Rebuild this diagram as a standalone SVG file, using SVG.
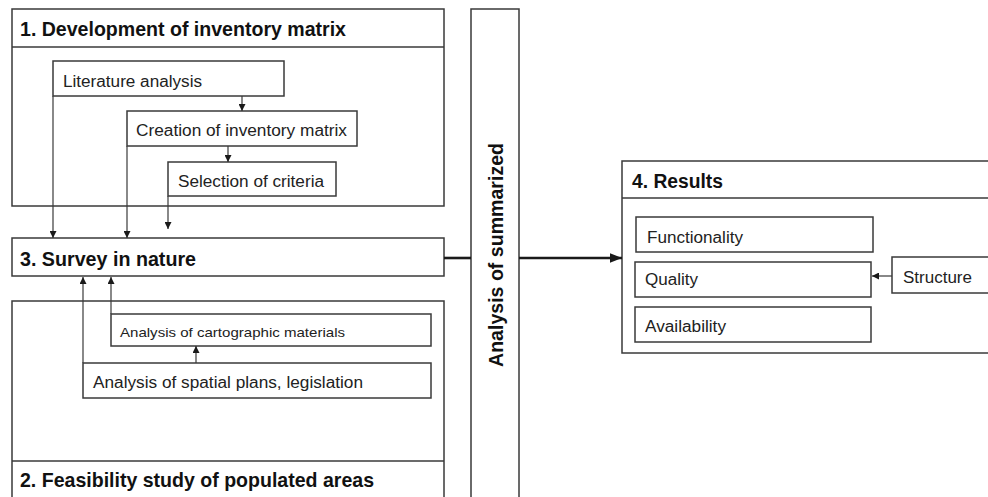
<svg xmlns="http://www.w3.org/2000/svg" width="988" height="497" viewBox="0 0 988 497">
<style>
.box{fill:#fff;stroke:#3a3a3a;stroke-width:1.5}
.ln{fill:none;stroke:#3a3a3a;stroke-width:1.2}
.thick{fill:none;stroke:#1a1a1a;stroke-width:2.6}
.t{font-family:"Liberation Sans",Arial,sans-serif;fill:#222}
.h{font-family:"Liberation Sans",Arial,sans-serif;fill:#111;font-weight:bold;font-size:21px}
</style>
<defs>
<marker id="a" viewBox="0 0 10 10" refX="10" refY="5" markerWidth="7" markerHeight="7" markerUnits="userSpaceOnUse" orient="auto"><path d="M0,0 L10,5 L0,10 z" fill="#1a1a1a"/></marker>
<marker id="ab" viewBox="0 0 10 10" refX="10" refY="5" markerWidth="12" markerHeight="12" markerUnits="userSpaceOnUse" orient="auto"><path d="M0,1 L10,5 L0,9 z" fill="#1a1a1a"/></marker>
</defs>
<rect width="988" height="497" fill="#fff"/>

<g id="group1">
<rect class="box" x="12" y="9" width="432" height="197"/>
<line class="ln" x1="12" y1="47" x2="444" y2="47" style="stroke-width:1.5"/>
<text class="h" x="20" y="36" textLength="326" lengthAdjust="spacingAndGlyphs">1. Development of inventory matrix</text>
</g>
<g id="literature">
<rect class="box" x="53" y="61" width="231" height="35"/>
<text class="t" x="63" y="87" font-size="16" textLength="139" lengthAdjust="spacingAndGlyphs">Literature analysis</text>
</g>
<g id="creation">
<rect class="box" x="127" y="111" width="230" height="35"/>
<text class="t" x="136" y="136" font-size="16" textLength="211" lengthAdjust="spacingAndGlyphs">Creation of inventory matrix</text>
</g>
<g id="selection">
<rect class="box" x="168" y="162" width="168" height="34"/>
<text class="t" x="178" y="187" font-size="16" textLength="146" lengthAdjust="spacingAndGlyphs">Selection of criteria</text>
</g>

<g id="survey">
<rect class="box" x="12" y="238" width="432" height="38"/>
<text class="h" x="20" y="266" font-size="20" style="font-size:20px" textLength="176" lengthAdjust="spacingAndGlyphs">3. Survey in nature</text>
</g>

<g id="group2">
<rect class="box" x="12" y="301" width="432" height="210"/>
<line class="ln" x1="12" y1="461" x2="444" y2="461" style="stroke-width:1.5"/>
<text class="h" x="20" y="487" textLength="354" lengthAdjust="spacingAndGlyphs">2. Feasibility study of populated areas</text>
</g>
<g id="cartographic">
<rect class="box" x="111" y="314" width="320" height="32"/>
<text class="t" x="120" y="337" font-size="13" textLength="225" lengthAdjust="spacingAndGlyphs">Analysis  of cartographic materials</text>
</g>
<g id="spatial">
<rect class="box" x="83" y="363" width="348" height="35"/>
<text class="t" x="93" y="388" font-size="16" textLength="270" lengthAdjust="spacingAndGlyphs">Analysis of spatial plans, legislation</text>
</g>

<g id="analysis">
<rect class="box" x="471" y="9" width="48" height="500"/>
<text class="h" transform="translate(503,367) rotate(-90)" x="0" y="0" style="font-size:20px" textLength="224" lengthAdjust="spacingAndGlyphs">Analysis of summarized</text>
</g>

<g id="results">
<rect class="box" x="622" y="161" width="380" height="192"/>
<line class="ln" x1="622" y1="198" x2="990" y2="198" style="stroke-width:1.5"/>
<text class="h" x="632" y="188" style="font-size:20px" textLength="91" lengthAdjust="spacingAndGlyphs">4. Results</text>
</g>
<g id="functionality">
<rect class="box" x="636" y="217" width="237" height="35"/>
<text class="t" x="647" y="243" font-size="16" textLength="96" lengthAdjust="spacingAndGlyphs">Functionality</text>
</g>
<g id="quality">
<rect class="box" x="635" y="262" width="236" height="35"/>
<text class="t" x="645" y="285" font-size="16" textLength="53" lengthAdjust="spacingAndGlyphs">Quality</text>
</g>
<g id="availability">
<rect class="box" x="635" y="307" width="236" height="35"/>
<text class="t" x="645" y="332" font-size="16" textLength="81" lengthAdjust="spacingAndGlyphs">Availability</text>
</g>
<g id="structure">
<rect class="box" x="892" y="257" width="110" height="36"/>
<text class="t" x="903" y="283" font-size="16" textLength="69" lengthAdjust="spacingAndGlyphs">Structure</text>
</g>

<g id="connectors">
<line class="ln" x1="242" y1="96" x2="242" y2="111" marker-end="url(#a)"/>
<line class="ln" x1="228" y1="146" x2="228" y2="162" marker-end="url(#a)"/>
<line class="ln" x1="53" y1="96" x2="53" y2="238" marker-end="url(#a)"/>
<line class="ln" x1="127" y1="146" x2="127" y2="238" marker-end="url(#a)"/>
<line class="ln" x1="168" y1="196" x2="168" y2="229" marker-end="url(#a)"/>
<line class="ln" x1="196" y1="363" x2="196" y2="346" marker-end="url(#a)"/>
<line class="ln" x1="83" y1="363" x2="83" y2="277" marker-end="url(#a)"/>
<line class="ln" x1="111" y1="314" x2="111" y2="277" marker-end="url(#a)"/>
<line class="ln" x1="892" y1="276" x2="872" y2="276" marker-end="url(#a)"/>
<line class="thick" x1="444" y1="258" x2="471" y2="258"/>
<line class="thick" x1="519" y1="258" x2="622" y2="258" marker-end="url(#ab)"/>
</g>
</svg>
